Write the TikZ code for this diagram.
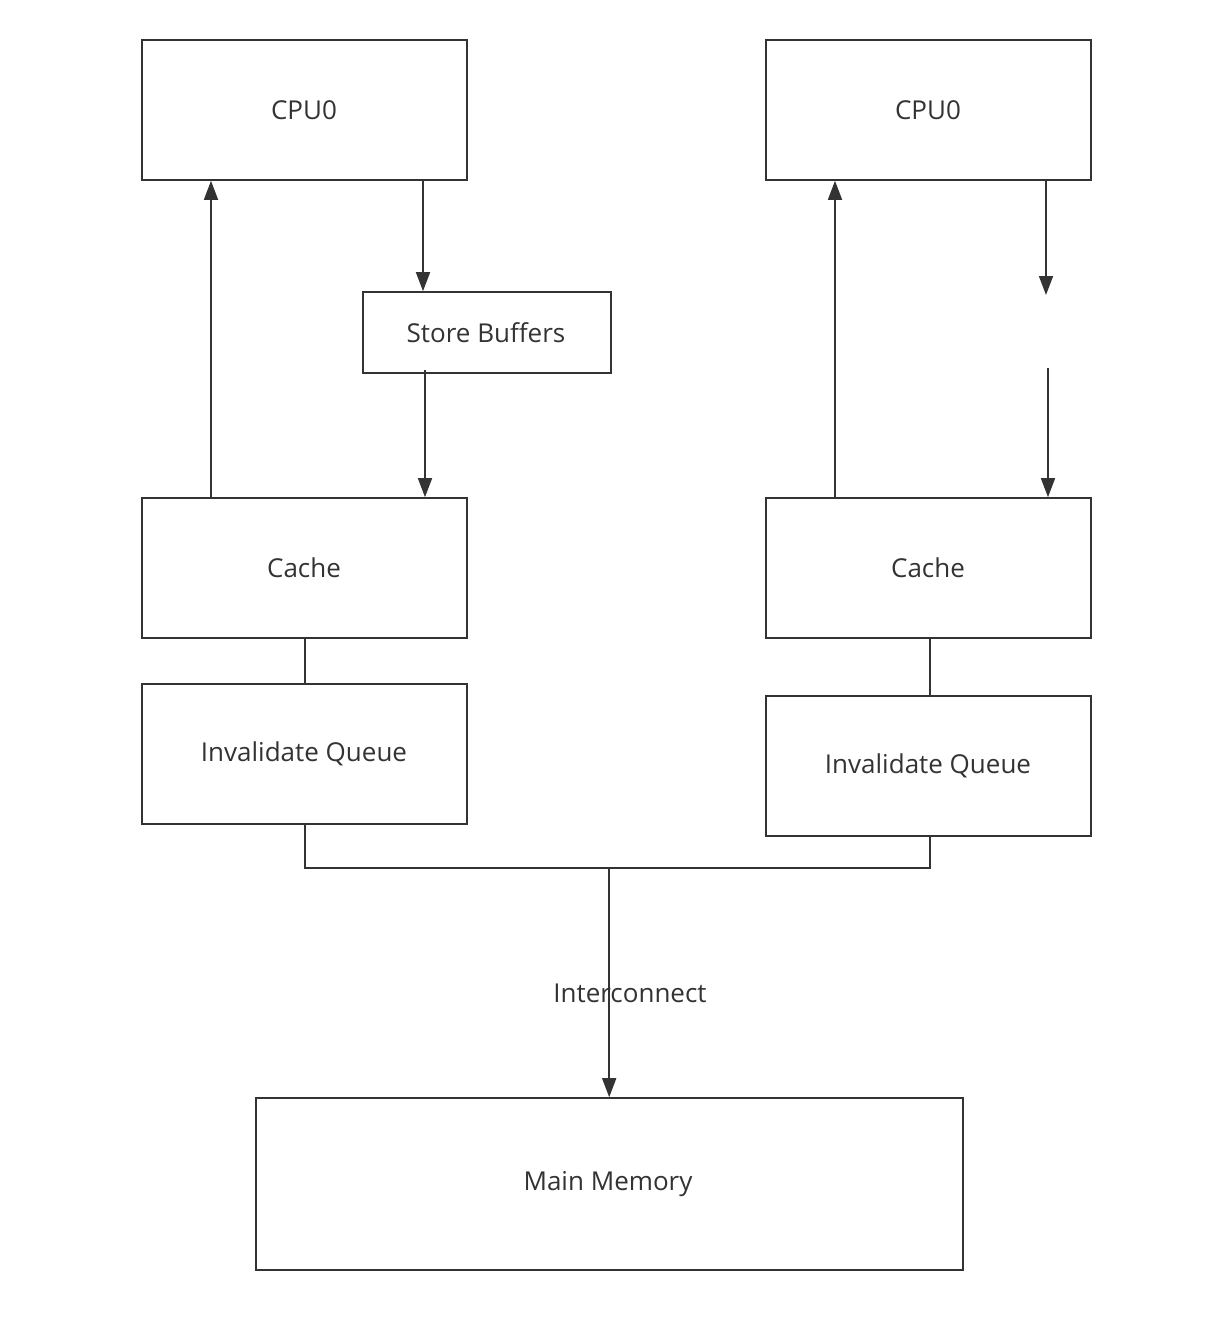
\documentclass[tikz,border=0pt]{standalone}
\usepackage{fontspec}
\setmainfont{Open Sans}
\usetikzlibrary{arrows.meta}
\definecolor{ink}{HTML}{333333}
\begin{document}
\begin{tikzpicture}[x=1pt,y=-1pt,
  box/.style={draw=ink,line width=1.6pt},
  lbl/.style={text=ink,font=\fontsize{26}{30}\selectfont},
  conn/.style={draw=ink,line width=1.6pt},
  arr/.style={conn,-{Triangle[width=14pt,length=19pt]}}]
\useasboundingbox (0,0) rectangle (1219,1339);
\node[box,minimum width=325pt,minimum height=140pt] (cpuL) at (304.5,110) {};
\node[lbl] at (304,110) {CPU0};
\node[box,minimum width=325pt,minimum height=140pt] (cpuR) at (928.5,110) {};
\node[lbl] at (928,110) {CPU0};
\node[box,minimum width=248pt,minimum height=81pt] (sb) at (487,332.5) {};
\node[lbl] at (486,333) {Store Buffers};
\node[box,minimum width=325pt,minimum height=140pt] (cacheL) at (304.5,568) {};
\node[lbl] at (304,568) {Cache};
\node[box,minimum width=325pt,minimum height=140pt] (cacheR) at (928.5,568) {};
\node[lbl] at (928,568) {Cache};
\node[box,minimum width=325pt,minimum height=140pt] (iqL) at (304.5,754) {};
\node[lbl] at (304,754) {Invalidate Queue};
\node[box,minimum width=325pt,minimum height=140pt] (iqR) at (928.5,766) {};
\node[lbl] at (928,766) {Invalidate Queue};
\node[box,minimum width=707pt,minimum height=172pt] (mem) at (609.5,1184) {};
\node[lbl] at (608,1184) {Main Memory};
% arrows left
\draw[arr] (cacheL.north -| 211,0) -- (cpuL.south -| 211,0);
\draw[arr] (cpuL.south -| 423,0) -- (sb.north -| 423,0);
\draw[arr] (425,370) -- (cacheL.north -| 425,0);
% arrows right
\draw[arr] (cacheR.north -| 835,0) -- (cpuR.south -| 835,0);
\coordinate (rEnd) at (1046,295);
\coordinate (rStart) at (1048,368);
\draw[arr] (cpuR.south -| 1046,0) -- (rEnd);
\draw[arr] (rStart) -- (cacheR.north -| 1048,0);
% links
\draw[conn] (cacheL.south -| 305,0) -- (iqL.north -| 305,0);
\draw[conn] (cacheR.south -| 930,0) -- (iqR.north -| 930,0);
\coordinate (bus) at (609.2,868);
\draw[conn] (iqL.south -| 305,0) |- (bus) -| (iqR.south -| 930,0);
\draw[arr] (bus) -- (bus |- mem.north);
\node[lbl] (ic) at (630,993) {Interconnect};
\end{tikzpicture}
\end{document}
